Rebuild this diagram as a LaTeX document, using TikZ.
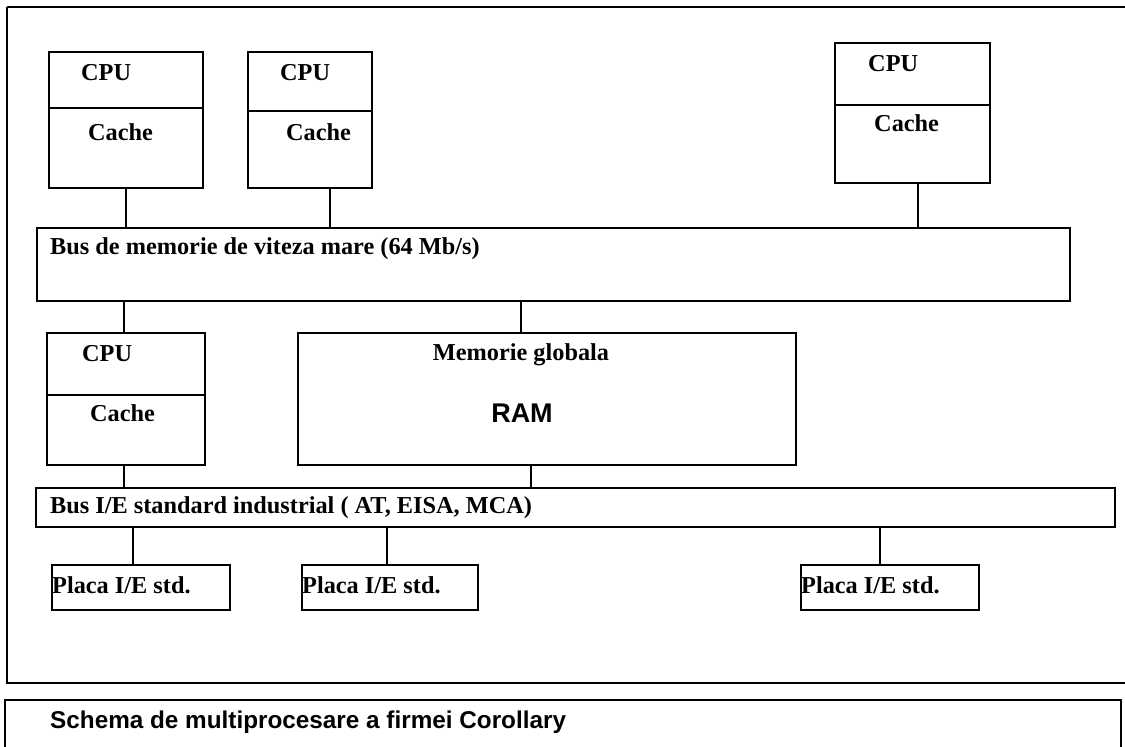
\documentclass[tikz,border=0pt]{standalone}
\usepackage{fontspec}
\setmainfont{Liberation Serif}
\setsansfont{Liberation Sans}
\begin{document}
\begin{tikzpicture}[x=1pt,y=-1pt,
  box/.style={draw, line width=1.6pt, rectangle, inner sep=0pt, outer sep=0pt, anchor=north west},
  frame/.style={draw, line width=2.8pt},
  lbl/.style={font=\fontsize{24.3}{28}\selectfont\bfseries, inner sep=0pt, anchor=base west},
  sanslbl/.style={font=\fontsize{24.3}{28}\selectfont\sffamily\bfseries, inner sep=0pt, anchor=base west},
  wire/.style={line width=1.4pt}]
\useasboundingbox (0,0) rectangle (1125,747);
% outer frames
\draw[frame] (7,7) -- (1135,7);
\draw[frame] (7,7) -- (7,683) -- (1135,683);
\draw[frame] (5,760) -- (5,700) -- (1121,700) -- (1121,760);
% row 1 processors
\node[box, minimum width=154, minimum height=136] (c1) at (49,52) {};
\draw[wire] ([yshift=-56pt]c1.north west) -- ([yshift=-56pt]c1.north east);
\node[lbl] (c1p) at (81,80) {CPU};
\node[lbl] (c1c) at (88,140) {Cache};
\node[box, minimum width=124, minimum height=136] (c2) at (248,52) {};
\draw[wire] ([yshift=-59pt]c2.north west) -- ([yshift=-59pt]c2.north east);
\node[lbl] (c2p) at (280,80) {CPU};
\node[lbl] (c2c) at (286,140) {Cache};
\node[box, minimum width=155, minimum height=140] (c3) at (835,43) {};
\draw[wire] ([yshift=-62pt]c3.north west) -- ([yshift=-62pt]c3.north east);
\node[lbl] (c3p) at (868,71) {CPU};
\node[lbl] (c3c) at (874,131) {Cache};
% memory bus
\node[box, minimum width=1033, minimum height=73] (bus1) at (37,228) {};
\node[lbl] (bus1t) at (50,254) {Bus de memorie de viteza mare (64 Mb/s)};
\draw[wire] (126,0 |- c1.south) -- (126,0 |- bus1.north);
\draw[wire] (330,0 |- c2.south) -- (330,0 |- bus1.north);
\draw[wire] (918,0 |- c3.south) -- (918,0 |- bus1.north);
% row 2
\node[box, minimum width=158, minimum height=132] (c4) at (47,333) {};
\draw[wire] ([yshift=-62pt]c4.north west) -- ([yshift=-62pt]c4.north east);
\node[lbl] (c4p) at (82,361) {CPU};
\node[lbl] (c4c) at (90,421) {Cache};
\node[box, minimum width=498, minimum height=132] (mem) at (298,333) {};
\node[lbl, anchor=base] (memt) at (521,360) {Memorie globala};
\node[sanslbl, anchor=base, font=\fontsize{27}{30}\selectfont\sffamily\bfseries] (ram) at (522,422) {RAM};
\draw[wire] (124,0 |- bus1.south) -- (124,0 |- c4.north);
\draw[wire] (521,0 |- bus1.south) -- (521,0 |- mem.north);
% I/O bus
\node[box, minimum width=1079, minimum height=39] (bus2) at (36,488) {};
\node[lbl] (bus2t) at (50,513) {Bus I/E standard industrial ( AT, EISA, MCA)};
\draw[wire] (124,0 |- c4.south) -- (124,0 |- bus2.north);
\draw[wire] (531,0 |- mem.south) -- (531,0 |- bus2.north);
% I/O boards
\node[box, minimum width=178, minimum height=45] (p1) at (52,565) {};
\node[lbl] (p1t) at (52,593) {Placa I/E std.};
\node[box, minimum width=176, minimum height=45] (p2) at (302,565) {};
\node[lbl] (p2t) at (302,593) {Placa I/E std.};
\node[box, minimum width=178, minimum height=45] (p3) at (801,565) {};
\node[lbl] (p3t) at (801,593) {Placa I/E std.};
\draw[wire] (133,0 |- bus2.south) -- (133,0 |- p1.north);
\draw[wire] (387,0 |- bus2.south) -- (387,0 |- p2.north);
\draw[wire] (880,0 |- bus2.south) -- (880,0 |- p3.north);
% caption
\node[sanslbl] (cap) at (50,728) {Schema de multiprocesare a firmei Corollary};
\end{tikzpicture}
\end{document}
